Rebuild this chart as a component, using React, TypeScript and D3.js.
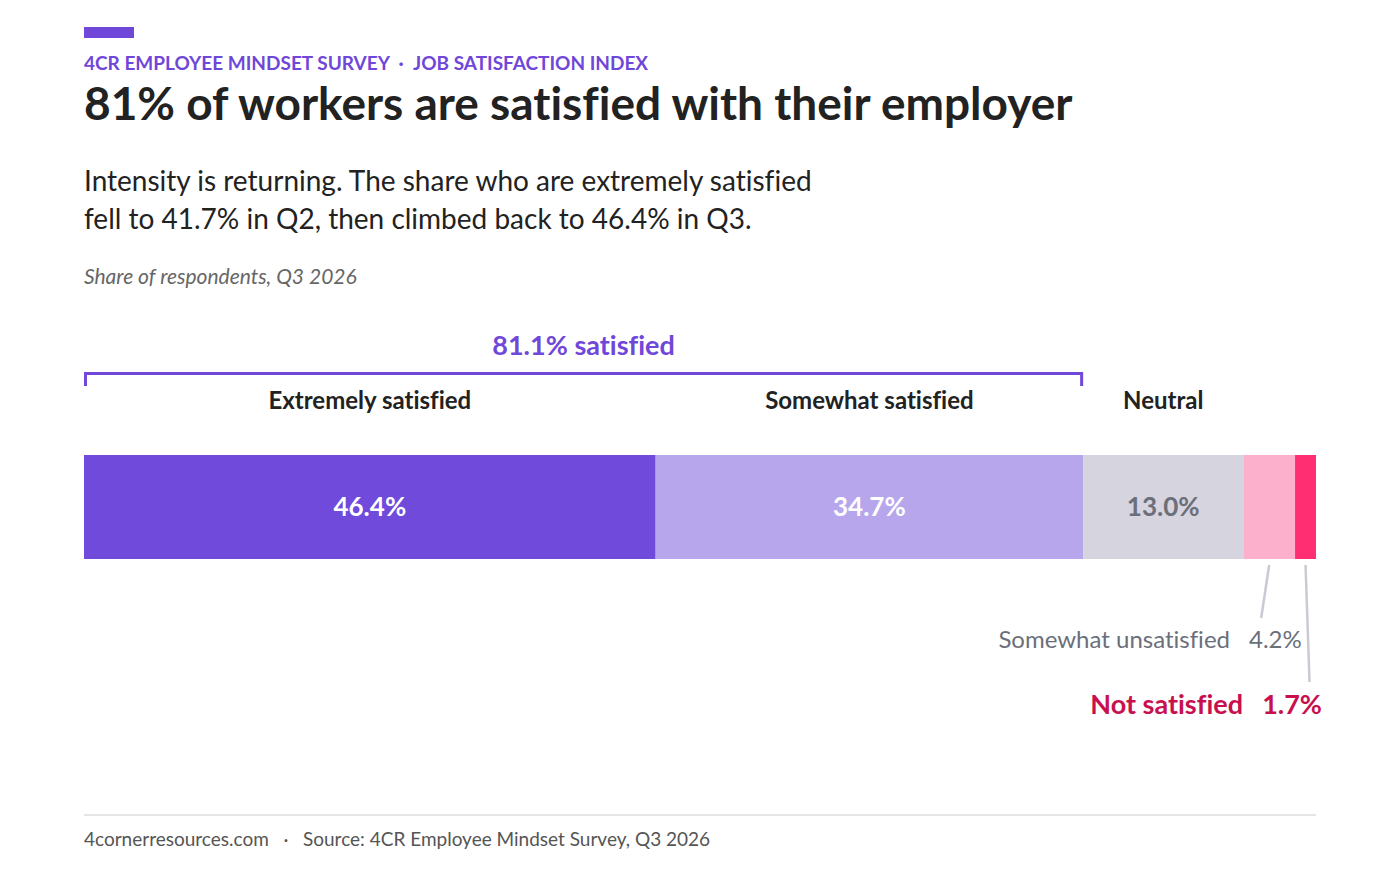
import React from "react";
import * as d3 from "d3";

const categories = ["Extremely satisfied", "Somewhat satisfied", "Neutral", "Somewhat unsatisfied", "Not satisfied"];
const values = [46.4, 34.7, 13.0, 4.2, 1.7];
const colors = ["#6f4adb", "#b7a6ec", "#d6d4de", "#fdb0cb", "#ff2d72"];
const valueColors = ["#ffffff", "#ffffff", "#6b6f7a", "", ""];
const satisfiedTotal = 81.1;

const W = 1400;
const H = 875;
const FONT = "Lato, 'Open Sans', sans-serif";

export default function App() {
  const x = d3.scaleLinear().domain([0, 100]).range([84, 1316]);
  const starts: number[] = [];
  let acc = 0;
  values.forEach((v) => {
    starts.push(acc);
    acc += v;
  });
  const barY = 455;
  const barH = 104;
  const purple = "#6f47d9";
  const gray = "#6b6f7a";
  const crimson = "#c8104f";
  const leader = "#c8cbd3";

  const mid = (i: number) => x(starts[i] + values[i] / 2);
  const satEnd = x(satisfiedTotal);

  return (
    <svg
      width={W}
      height={H}
      style={{
        position: "absolute",
        left: 0,
        top: 0,
        display: "block",
        background: "#fff",
        fontVariantLigatures: "none",
        fontFeatureSettings: '"liga" 0',
      }}
      fontFamily={FONT}
    >
      <rect x={84} y={27} width={50} height={11} fill={purple} />
      <text x={84} y={70} fontSize={19} fontWeight={700} fill={purple}>
        4CR EMPLOYEE MINDSET SURVEY
      </text>
      <text x={401} y={70} fontSize={19} fontWeight={700} fill={purple} textAnchor="middle">
        ·
      </text>
      <text x={413} y={70} fontSize={19} fontWeight={700} fill={purple}>
        JOB SATISFACTION INDEX
      </text>
      <text x={84} y={120} fontSize={46} fontWeight={700} fill="#222">
        81% of workers are satisfied with their employer
      </text>
      <text x={84} y={191} fontSize={28} fill="#222">
        Intensity is returning. The share who are extremely satisfied
      </text>
      <text x={84} y={229} fontSize={28} fill="#222">
        fell to 41.7% in Q2, then climbed back to 46.4% in Q3.
      </text>
      <text x={84} y={284} fontSize={21} fontStyle="italic" fill="#666">
        Share of respondents, Q3 2026
      </text>

      {/* bracket */}
      <text x={(x(0) + satEnd) / 2} y={355} fontSize={27} fontWeight={700} fill={purple} textAnchor="middle">
        {satisfiedTotal.toFixed(1)}% satisfied
      </text>
      <path
        d={`M${x(0) + 1.5},386 V373.5 H${satEnd - 1.5} V386`}
        fill="none"
        stroke={purple}
        strokeWidth={3}
      />

      {/* category labels above */}
      {[0, 1, 2].map((i) => (
        <text key={"lab" + i} x={mid(i)} y={409} fontSize={24} fontWeight={700} fill="#222" textAnchor="middle">
          {categories[i]}
        </text>
      ))}

      {/* bars */}
      {values.map((v, i) => (
        <rect key={"bar" + i} x={x(starts[i])} y={barY} width={x(v) - x(0)} height={barH} fill={colors[i]} />
      ))}
      {[0, 1, 2].map((i) => (
        <text
          key={"val" + i}
          x={mid(i)}
          y={516}
          fontSize={26}
          fontWeight={700}
          fill={valueColors[i]}
          textAnchor="middle"
        >
          {values[i].toFixed(1)}%
        </text>
      ))}

      {/* leaders */}
      <line x1={mid(3)} y1={565} x2={mid(3) - 8} y2={618} stroke={leader} strokeWidth={2.5} />
      <line x1={mid(4)} y1={565} x2={mid(4) + 4} y2={682} stroke={leader} strokeWidth={2.5} />

      <text x={1230} y={648} fontSize={24} fill={gray} textAnchor="end">
        {categories[3]}
      </text>
      <text x={1249} y={648} fontSize={24} fill={gray}>
        {values[3].toFixed(1)}%
      </text>
      <text x={1243} y={714} fontSize={27} fontWeight={700} fill={crimson} textAnchor="end">
        {categories[4]}
      </text>
      <text x={1322} y={714} fontSize={27} fontWeight={700} fill={crimson} textAnchor="end">
        {values[4].toFixed(1)}%
      </text>

      {/* footer */}
      <line x1={84} y1={815} x2={1316} y2={815} stroke="#dddddd" strokeWidth={1.5} />
      <text x={84} y={846} fontSize={19} fill="#555">
        4cornerresources.com
      </text>
      <text x={286} y={846} fontSize={19} fill="#555" textAnchor="middle">
        ·
      </text>
      <text x={303} y={846} fontSize={19} fill="#555">
        Source: 4CR Employee Mindset Survey, Q3 2026
      </text>
    </svg>
  );
}
